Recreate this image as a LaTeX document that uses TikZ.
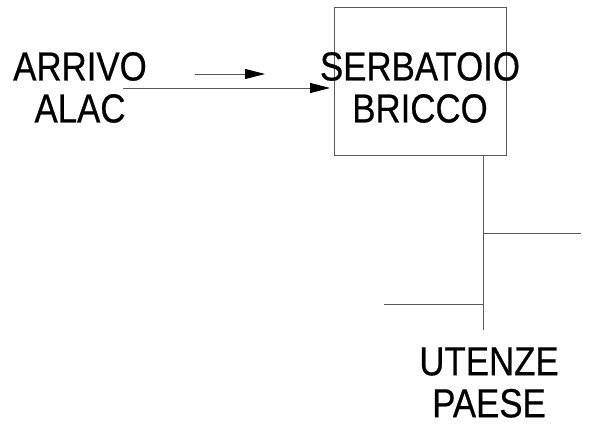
\documentclass[tikz,border=0pt]{standalone}
\usepackage{fontspec}
\setmainfont{Liberation Sans}
\newfontfamily\cadfont[FakeBold=0.6]{Liberation Sans}
\usetikzlibrary{arrows.meta, positioning}

\begin{document}
\begin{tikzpicture}[x=1pt, y=-1pt,
	lbl/.style={align=center, font=\cadfont\fontsize{40.5}{42}\selectfont, xscale=0.86, inner sep=0pt},
	pipe/.style={draw=black!65, line width=0.8pt},
	flow/.style={pipe, -{Triangle[length=20pt, width=10pt, color=black]}}]
	\useasboundingbox (0, 0) rectangle (603, 428);
	% Tank, labels, pipes:
	\node[pipe, shape=rectangle, minimum width=172pt, minimum height=148pt, inner sep=0pt] (tank) at (420, 81) {};
	\node[lbl] (tanklbl) at (420, 87.5) {SERBATOIO\\BRICCO};
	\node[lbl] (inletlbl) at (80, 87.5) {ARRIVO\\ALAC};
	\node[lbl] (userlbl) at (489, 382.5) {UTENZE\\PAESE};
	\coordinate (inlet) at (123, 88);
	\coordinate (inletend) at (330, 88);
	\coordinate (dirA) at (195, 74);
	\coordinate (dirB) at (265, 74);
	\coordinate (foot) at (483, 330);
	\coordinate (teeR) at (483, 233);
	\coordinate (endR) at (581, 233);
	\coordinate (teeL) at (483, 304);
	\coordinate (endL) at (384, 304);
	\draw[flow] (inlet) -- (inletend);
	\draw[flow] (dirA) -- (dirB);
	\draw[pipe] (tank.south -| foot) -- (foot);
	\draw[pipe] (teeR) -- (endR);
	\draw[pipe] (teeL) -- (endL);
\end{tikzpicture}
\end{document}
